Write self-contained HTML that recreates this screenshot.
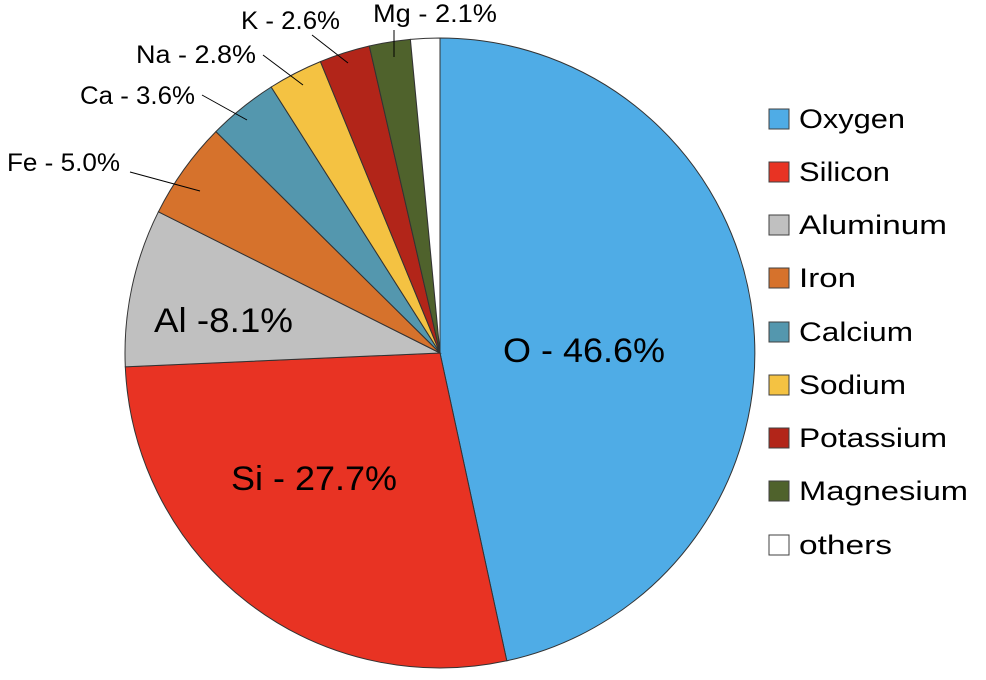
<!DOCTYPE html>
<html><head><meta charset="utf-8"><style>body{margin:0;background:#fff}svg{display:block}</style></head>
<body>
<svg width="986" height="680" xmlns="http://www.w3.org/2000/svg" font-family="Liberation Sans, sans-serif">
<g stroke="#333" stroke-width="1">
<path d="M440,353 L440,38 A315,315 0 0 1 506.8,660.8 Z" fill="#4FACE6"/>
<path d="M440,353 L506.8,660.8 A315,315 0 0 1 125.3,366.8 Z" fill="#E83323"/>
<path d="M440,353 L125.3,366.8 A315,315 0 0 1 158.4,211.8 Z" fill="#C0C0C0"/>
<path d="M440,353 L158.4,211.8 A315,315 0 0 1 215.9,131.6 Z" fill="#D6722C"/>
<path d="M440,353 L215.9,131.6 A315,315 0 0 1 271.2,87 Z" fill="#5497AE"/>
<path d="M440,353 L271.2,87 A315,315 0 0 1 320.4,61.6 Z" fill="#F4C242"/>
<path d="M440,353 L320.4,61.6 A315,315 0 0 1 369.3,46 Z" fill="#B22519"/>
<path d="M440,353 L369.3,46 A315,315 0 0 1 410.4,39.4 Z" fill="#4F622C"/>
<path d="M440,353 L410.4,39.4 A315,315 0 0 1 440,38 Z" fill="#FFFFFF"/>
</g>
<g stroke="#000" stroke-width="1">
<line x1="130" y1="172" x2="200" y2="191"/>
<line x1="202" y1="95" x2="247" y2="120"/>
<line x1="263" y1="55" x2="303" y2="85"/>
<line x1="312" y1="35" x2="348" y2="63"/>
<line x1="394" y1="30" x2="394" y2="57"/>
</g>
<g font-size="25" fill="#000">
<text x="7" y="171" textLength="113" lengthAdjust="spacingAndGlyphs">Fe - 5.0%</text>
<text x="80" y="104" textLength="115" lengthAdjust="spacingAndGlyphs">Ca - 3.6%</text>
<text x="136" y="63" textLength="120" lengthAdjust="spacingAndGlyphs">Na - 2.8%</text>
<text x="241" y="29" textLength="99" lengthAdjust="spacingAndGlyphs">K - 2.6%</text>
<text x="373" y="22" textLength="124" lengthAdjust="spacingAndGlyphs">Mg - 2.1%</text>
</g>
<g font-size="34" fill="#000">
<text x="503" y="362" textLength="162" lengthAdjust="spacingAndGlyphs">O - 46.6%</text>
<text x="231" y="490" textLength="166" lengthAdjust="spacingAndGlyphs">Si - 27.7%</text>
<text x="154" y="332" textLength="139" lengthAdjust="spacingAndGlyphs">Al -8.1%</text>
</g>
<g stroke="#404040" stroke-width="1">
<rect x="769" y="109" width="20" height="20" fill="#4FACE6"/>
<rect x="769" y="162" width="20" height="20" fill="#E83323"/>
<rect x="769" y="215" width="20" height="20" fill="#C0C0C0"/>
<rect x="769" y="268" width="20" height="20" fill="#D6722C"/>
<rect x="769" y="322" width="20" height="20" fill="#5497AE"/>
<rect x="769" y="375" width="20" height="20" fill="#F4C242"/>
<rect x="769" y="428" width="20" height="20" fill="#B22519"/>
<rect x="769" y="481" width="20" height="20" fill="#4F622C"/>
<rect x="769" y="535" width="20" height="20" fill="#FFFFFF"/>
</g>
<g font-size="27" fill="#000" lengthAdjust="spacingAndGlyphs">
<text x="799" y="128" textLength="106" lengthAdjust="spacingAndGlyphs">Oxygen</text>
<text x="799" y="181" textLength="91" lengthAdjust="spacingAndGlyphs">Silicon</text>
<text x="799" y="234" textLength="148" lengthAdjust="spacingAndGlyphs">Aluminum</text>
<text x="799" y="287" textLength="57" lengthAdjust="spacingAndGlyphs">Iron</text>
<text x="799" y="341" textLength="114" lengthAdjust="spacingAndGlyphs">Calcium</text>
<text x="799" y="394" textLength="107" lengthAdjust="spacingAndGlyphs">Sodium</text>
<text x="799" y="447" textLength="148" lengthAdjust="spacingAndGlyphs">Potassium</text>
<text x="799" y="500" textLength="169" lengthAdjust="spacingAndGlyphs">Magnesium</text>
<text x="799" y="554" textLength="93" lengthAdjust="spacingAndGlyphs">others</text>
</g>
</svg>
</body></html>
